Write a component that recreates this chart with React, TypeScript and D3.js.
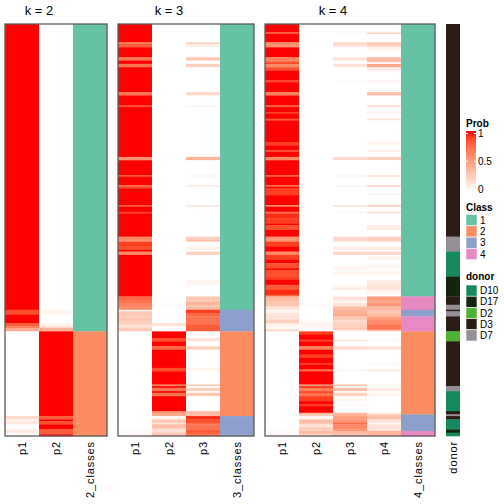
import React from "react";
import * as d3 from "d3";

// ---------- data ----------
const N_SAMPLES = 248;

// class assignment runs: [count, class]
const k2ClassRuns: [number, number][] = [[185, 1], [63, 2]];
const k3ClassRuns: [number, number][] = [[172, 1], [13, 3], [51, 2], [12, 3]];
const k4ClassRuns: [number, number][] = [[164, 1], [8, 4], [4, 3], [9, 4], [50, 2], [10, 3], [3, 4]];

// donor runs: [count, donor]
const donorRuns: [number, string][] = [
  [128, "D3"], [9, "D7"], [15, "D10"], [12, "D17"], [5, "D3"], [3, "D7"], [1, "D3"], [3, "D7"],
  [9, "D3"], [6, "D2"], [27, "D3"], [3, "D7"], [12, "D10"], [1, "D17"], [1, "D3"], [1, "D7"],
  [2, "D3"], [6, "D10"], [2, "D17"], [2, "D10"],
];

// membership probabilities: [fromSample, toSample, prob]; unspecified samples = 0
type Seg = [number, number, number];
const k2P1: Seg[] = [[0, 171, 1], [172, 174, 0.85], [175, 179, 1], [180, 181, 0.8], [182, 182, 0.65], [183, 184, 0.45],
  [236, 237, 0.2], [238, 238, 0.05], [239, 240, 0.12], [244, 245, 0.1], [246, 246, 0.05]];
const k2P2: Seg[] = [[172, 174, 0.05], [180, 181, 0.05], [182, 182, 0.2], [183, 184, 0.4], [185, 235, 1], [236, 237, 0.8],
  [238, 238, 1], [239, 240, 0.85], [241, 243, 1], [244, 246, 0.8], [247, 247, 1]];

const k3P1: Seg[] = [[0, 10, 1], [11, 11, 0.65], [12, 13, 0.8], [14, 19, 1], [20, 21, 0.7], [22, 23, 1], [24, 25, 0.7],
  [26, 40, 1], [41, 42, 0.7], [43, 48, 1], [49, 49, 0.85], [50, 79, 1], [80, 81, 0.55], [82, 90, 1], [91, 91, 0.85],
  [92, 96, 1], [97, 97, 0.75], [98, 98, 0.9], [99, 108, 1], [109, 109, 0.8], [110, 112, 1], [113, 113, 0.9],
  [114, 127, 1], [128, 129, 0.6], [130, 130, 0.55], [131, 133, 0.9], [134, 135, 0.85], [136, 136, 1], [137, 138, 0.6],
  [139, 163, 1], [164, 165, 0.75], [166, 167, 0.7], [168, 169, 0.65], [170, 171, 0.6], [172, 172, 0.05],
  [173, 174, 0.3], [175, 176, 0.25], [177, 178, 0.3], [179, 180, 0.25], [181, 181, 0.15], [182, 182, 0.2],
  [183, 183, 0.25], [184, 184, 0.3], [244, 247, 0.03]];
const k3P2: Seg[] = [[168, 169, 0.03], [180, 181, 0.15], [185, 188, 1], [189, 190, 0.85], [191, 193, 1], [194, 195, 0.75],
  [196, 206, 1], [207, 208, 0.85], [209, 216, 1], [217, 217, 0.65], [218, 218, 1], [219, 220, 0.7], [221, 221, 1],
  [222, 223, 0.7], [224, 232, 1], [233, 233, 0.6], [234, 235, 0.45], [236, 237, 0.05], [238, 239, 0.3],
  [240, 240, 0.15], [241, 242, 0.35], [243, 243, 0.25], [244, 245, 0.15], [246, 247, 0.3]];
const k3P3: Seg[] = [[11, 11, 0.25], [12, 13, 0.1], [20, 21, 0.3], [24, 25, 0.25], [41, 42, 0.2], [49, 49, 0.05],
  [80, 81, 0.4], [91, 91, 0.05], [97, 97, 0.1], [109, 109, 0.12], [113, 113, 0.03], [128, 129, 0.25], [130, 130, 0.35],
  [134, 135, 0.08], [137, 138, 0.25], [154, 156, 0.05], [164, 165, 0.3], [166, 166, 0.25], [167, 168, 0.4],
  [169, 169, 0.3], [170, 171, 0.35], [172, 173, 0.9], [174, 175, 0.75], [176, 180, 0.7], [181, 184, 0.8],
  [189, 190, 0.15], [194, 195, 0.25], [207, 208, 0.05], [217, 217, 0.3], [219, 220, 0.25], [222, 223, 0.3],
  [233, 235, 0.35], [236, 237, 0.95], [238, 239, 0.85], [240, 240, 0.75], [241, 243, 0.7], [244, 245, 0.8],
  [246, 247, 0.75]];

const k4P1: Seg[] = [[0, 4, 1], [5, 5, 0.8], [6, 10, 1], [11, 12, 0.6], [13, 13, 0.55], [14, 19, 1], [20, 21, 0.65],
  [22, 22, 0.7], [23, 23, 0.9], [24, 25, 0.6], [26, 27, 0.85], [28, 33, 1], [34, 34, 0.85], [35, 40, 1],
  [41, 42, 0.65], [43, 48, 1], [49, 49, 0.8], [50, 52, 1], [53, 53, 0.9], [54, 56, 1], [57, 57, 0.8], [58, 70, 1],
  [71, 72, 0.9], [73, 75, 1], [76, 76, 0.85], [77, 79, 1], [80, 81, 0.6], [82, 90, 1], [91, 91, 0.8], [92, 96, 1],
  [97, 97, 0.75], [98, 98, 1], [99, 102, 0.9], [103, 108, 1], [109, 109, 0.6], [110, 112, 1], [113, 113, 0.7],
  [114, 116, 0.95], [117, 119, 0.9], [120, 120, 1], [121, 123, 0.85], [124, 127, 1], [128, 130, 0.55],
  [131, 133, 0.9], [134, 136, 1], [137, 138, 0.6], [139, 141, 0.9], [142, 143, 1], [144, 146, 0.85], [147, 147, 1],
  [148, 151, 0.85], [152, 153, 0.9], [154, 156, 1], [157, 159, 0.8], [160, 162, 0.95], [163, 163, 0.75],
  [164, 166, 0.35], [167, 169, 0.3], [170, 171, 0.15], [172, 173, 0.05], [174, 175, 0.15], [176, 177, 0.15],
  [178, 179, 0.25], [180, 180, 0.1], [181, 183, 0.05], [184, 184, 0.25], [244, 247, 0.03]];
const k4P2: Seg[] = [[168, 169, 0.03], [179, 182, 0.05], [185, 186, 0.9], [187, 189, 1], [190, 190, 0.9], [191, 193, 1],
  [194, 195, 0.65], [196, 198, 1], [199, 200, 0.9], [201, 203, 1], [204, 204, 0.9], [205, 207, 1], [208, 208, 0.7],
  [209, 216, 1], [217, 217, 0.55], [218, 218, 0.95], [219, 220, 0.65], [221, 221, 0.9], [222, 223, 0.7],
  [224, 226, 0.9], [227, 228, 1], [229, 229, 0.9], [230, 233, 1], [234, 234, 0.4], [235, 235, 0.25],
  [236, 237, 0.05], [238, 239, 0.35], [240, 240, 0.3], [241, 242, 0.15], [243, 243, 0.3], [244, 244, 0.25],
  [245, 246, 0.35], [247, 247, 0.2]];
const k4P3: Seg[] = [[5, 5, 0.03], [11, 12, 0.2], [13, 13, 0.1], [20, 21, 0.15], [24, 25, 0.15], [34, 34, 0.03],
  [80, 81, 0.2], [91, 91, 0.05], [97, 97, 0.05], [109, 109, 0.15], [113, 113, 0.05], [128, 130, 0.2],
  [134, 135, 0.08], [137, 138, 0.2], [146, 147, 0.05], [149, 150, 0.05], [157, 158, 0.05], [159, 159, 0.1],
  [164, 165, 0.15], [166, 166, 0.1], [167, 167, 0.05], [168, 169, 0.15], [170, 171, 0.35], [172, 173, 0.4],
  [174, 175, 0.45], [176, 177, 0.3], [178, 179, 0.2], [180, 182, 0.25], [183, 183, 0.3], [184, 184, 0.1],
  [190, 190, 0.15], [194, 195, 0.2], [208, 208, 0.05], [217, 217, 0.35], [219, 220, 0.35], [222, 223, 0.25],
  [225, 226, 0.05], [229, 229, 0.03], [234, 235, 0.4], [236, 237, 0.5], [238, 239, 0.55], [240, 240, 0.75],
  [241, 243, 0.6], [244, 244, 0.55], [245, 247, 0.35]];
const k4P4: Seg[] = [[5, 5, 0.2], [11, 12, 0.3], [13, 13, 0.2], [14, 15, 0.05], [20, 22, 0.35], [24, 25, 0.45],
  [26, 27, 0.1], [34, 34, 0.07], [41, 42, 0.35], [49, 49, 0.2], [53, 53, 0.05], [57, 57, 0.15], [71, 72, 0.05],
  [76, 76, 0.1], [80, 81, 0.25], [91, 91, 0.15], [97, 97, 0.2], [102, 102, 0.05], [109, 109, 0.25],
  [113, 113, 0.2], [117, 117, 0.03], [121, 123, 0.1], [128, 130, 0.25], [134, 135, 0.1], [137, 138, 0.2],
  [140, 141, 0.05], [145, 146, 0.05], [149, 150, 0.05], [154, 156, 0.1], [157, 159, 0.15], [160, 162, 0.05],
  [164, 166, 0.5], [167, 167, 0.45], [168, 169, 0.55], [170, 170, 0.35], [171, 171, 0.4], [172, 173, 0.3],
  [174, 175, 0.35], [176, 177, 0.5], [178, 180, 0.6], [181, 183, 0.7], [184, 184, 0.35], [190, 190, 0.03],
  [194, 195, 0.15], [204, 204, 0.03], [208, 208, 0.15], [217, 217, 0.05], [219, 220, 0.1], [222, 223, 0.05],
  [234, 234, 0.15], [235, 235, 0.3], [236, 237, 0.35], [238, 239, 0.15], [240, 240, 0.05], [241, 244, 0.15],
  [245, 247, 0.4]];

const classLevels = ["1", "2", "3", "4"];
const classColors = ["#66C2A5", "#FC8D62", "#8DA0CB", "#E78AC3"];
const donorLevels = ["D10", "D17", "D2", "D3", "D7"];
const donorColors = ["#168A5E", "#13250F", "#4DB333", "#2C1C16", "#948F96"];
const probTicks = [0, 0.5, 1];

// ---------- helpers ----------
function expandRuns<T>(runs: [number, T][]): T[] {
  const out: T[] = [];
  runs.forEach(([n, v]) => { for (let i = 0; i < n; i++) out.push(v); });
  return out;
}
function expandSegs(segs: Seg[]): number[] {
  const a = new Array(N_SAMPLES).fill(0);
  segs.forEach(([s, e, v]) => { for (let i = s; i <= e; i++) a[i] = v; });
  return a;
}
// merge consecutive equal values into blocks
function blocks<T>(vals: T[]): { start: number; end: number; v: T }[] {
  const out: { start: number; end: number; v: T }[] = [];
  vals.forEach((v, i) => {
    const last = out[out.length - 1];
    if (last && last.v === v) last.end = i; else out.push({ start: i, end: i, v });
  });
  return out;
}

const probColor = d3.scaleLinear<string>().domain([0, 1]).range(["#FFFFFF", "#FF0000"]).interpolate(d3.interpolateLab);
const classColor = d3.scaleOrdinal<string, string>().domain(classLevels).range(classColors);
const donorColor = d3.scaleOrdinal<string, string>().domain(donorLevels).range(donorColors);

const FONT = "'Liberation Sans', Arial, Helvetica, sans-serif";
const TOP = 24;
const BOTTOM = 436;
const COLW = 34;

const y = d3.scaleBand<number>().domain(d3.range(N_SAMPLES)).range([TOP, BOTTOM]).padding(0);

const panels = [
  { title: "k = 2", probs: [k2P1, k2P2], classes: k2ClassRuns, k: 2, x0: 5 },
  { title: "k = 3", probs: [k3P1, k3P2, k3P3], classes: k3ClassRuns, k: 3, x0: 118 },
  { title: "k = 4", probs: [k4P1, k4P2, k4P3, k4P4], classes: k4ClassRuns, k: 4, x0: 265 },
];

function Panel({ p }: { p: typeof panels[number] }) {
  const labels = [...p.probs.map((_, i) => `p${i + 1}`), `${p.k}_classes`];
  const x = d3.scaleBand<string>().domain(labels).range([p.x0, p.x0 + COLW * labels.length]);
  const classVals = expandRuns(p.classes).map(String);
  const probEnd = x(labels[labels.length - 1])!;
  const bh = y.bandwidth();
  return (
    <g>
      <text x={(p.x0 + probEnd) / 2} y={15} textAnchor="middle" fontSize={13} fontFamily={FONT}>{p.title}</text>
      {p.probs.map((segs, j) => (
        <g key={j}>
          {blocks(expandSegs(segs)).map((b, i) => (
            <rect key={i} x={x(labels[j])} y={y(b.start)} width={x.bandwidth()}
              height={(b.end - b.start + 1) * bh + 0.3} fill={probColor(b.v)} />
          ))}
        </g>
      ))}
      {blocks(classVals).map((b, i) => (
        <rect key={"c" + i} x={x(labels[labels.length - 1])} y={y(b.start)} width={x.bandwidth()}
          height={(b.end - b.start + 1) * bh + 0.3} fill={classColor(b.v)} />
      ))}
      <rect x={p.x0} y={TOP} width={COLW * labels.length} height={BOTTOM - TOP} fill="none" stroke="#5a5a5a" strokeWidth={1.3} />
      {labels.map((l) => {
        const cx = x(l)! + x.bandwidth() / 2;
        return (
          <text key={l} x={cx} y={441} transform={`rotate(-90, ${cx}, 441)`} textAnchor="end"
            dominantBaseline="central" fontSize={11} letterSpacing={0.9} fontFamily={FONT}>{l}</text>
        );
      })}
    </g>
  );
}

export default function App() {
  const donorVals = expandRuns(donorRuns);
  const dx = 446, dw = 14;
  const legX = 466;
  const probY = d3.scaleLinear().domain([0, 1]).range([189, 133.5]);
  const gradStops = d3.range(0, 1.0001, 0.1);
  const swH = 11.3;
  return (
    <svg width={504} height={504} style={{ position: "absolute", left: 0, top: 0, background: "#fff" }}>
      <defs>
        <linearGradient id="probGrad" x1="0" y1="1" x2="0" y2="0">
          {gradStops.map((t) => (
            <stop key={t} offset={`${(t * 100).toFixed(0)}%`} stopColor={probColor(t)} />
          ))}
        </linearGradient>
      </defs>
      <rect x={0} y={0} width={504} height={504} fill="#fff" />
      {panels.map((p) => <Panel key={p.title} p={p} />)}

      {/* donor annotation */}
      {blocks(donorVals).map((b, i) => (
        <rect key={i} x={dx} y={y(b.start)} width={dw} height={(b.end - b.start + 1) * y.bandwidth() + 0.3}
          fill={donorColor(b.v)} />
      ))}
      <text x={dx + dw / 2} y={441} transform={`rotate(-90, ${dx + dw / 2}, 441)`} textAnchor="end"
        dominantBaseline="central" fontSize={11} letterSpacing={0.9} fontFamily={FONT}>donor</text>

      {/* Prob legend */}
      <text x={legX} y={127} fontSize={10} fontWeight="bold" fontFamily={FONT}>Prob</text>
      <rect x={legX} y={131} width={10} height={61} fill="url(#probGrad)" />
      {probTicks.map((t) => (
        <g key={t}>
          <line x1={legX} x2={legX + 2} y1={probY(t)} y2={probY(t)} stroke="#fff" strokeWidth={1} />
          <line x1={legX + 8} x2={legX + 10} y1={probY(t)} y2={probY(t)} stroke="#fff" strokeWidth={1} />
          <text x={legX + 12} y={probY(t)} dominantBaseline="central" fontSize={10} fontFamily={FONT}>{String(t)}</text>
        </g>
      ))}

      {/* Class legend */}
      <text x={legX} y={211} fontSize={10} fontWeight="bold" fontFamily={FONT}>Class</text>
      {classLevels.map((c, i) => (
        <g key={c}>
          <rect x={legX} y={214.5 + i * swH} width={11} height={swH} fill={classColor(c)} stroke="#fff" strokeWidth={0.6} />
          <text x={legX + 14} y={214.5 + i * swH + swH / 2} dominantBaseline="central" fontSize={10} fontFamily={FONT}>{c}</text>
        </g>
      ))}

      {/* donor legend */}
      <text x={legX} y={279.5} fontSize={10} fontWeight="bold" fontFamily={FONT}>donor</text>
      {donorLevels.map((d, i) => (
        <g key={d}>
          <rect x={legX} y={285 + i * 11.2} width={11} height={11.2} fill={donorColor(d)} stroke="#fff" strokeWidth={0.6} />
          <text x={legX + 14} y={285 + i * 11.2 + 5.6} dominantBaseline="central" fontSize={10} fontFamily={FONT}>{d}</text>
        </g>
      ))}
    </svg>
  );
}
